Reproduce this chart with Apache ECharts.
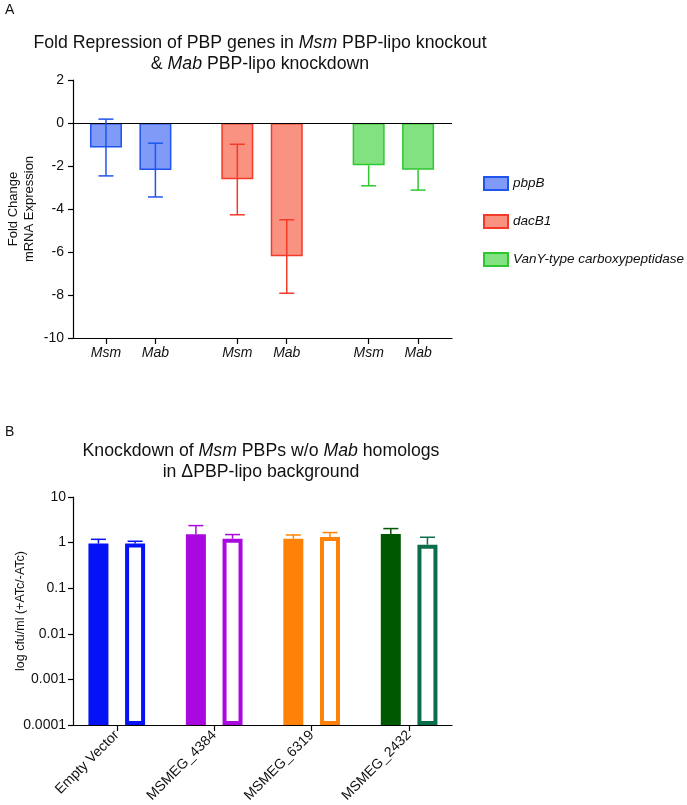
<!DOCTYPE html>
<html>
<head>
<meta charset="utf-8">
<script src="https://cdn.jsdelivr.net/npm/echarts@6/dist/echarts.min.js"></script>
<style>html,body{margin:0;padding:0;background:#fff}#c{width:687px;height:805px}</style>
</head>
<body>
<div id="c"></div>
<script>
// ---------- Panel A data ----------
const genesA = ['pbpB', 'dacB1', 'VanY-type carboxypeptidase'];
const strainsA = ['Msm', 'Mab'];
const meanA = { pbpB: [-1.14, -2.19], dacB1: [-2.62, -6.2], 'VanY-type carboxypeptidase': [-1.97, -2.17] };
const errUpA = { pbpB: [1.32, 1.25], dacB1: [1.63, 1.7], 'VanY-type carboxypeptidase': [0, 0] };
const errDownA = { pbpB: [1.32, 1.25], dacB1: [1.65, 1.72], 'VanY-type carboxypeptidase': [0.95, 0.95] };
const yTicksA = [2, 0, -2, -4, -6, -8, -10];

// ---------- Panel B data ----------
const strainsB = ['Empty Vector', 'MSMEG_4384', 'MSMEG_6319', 'MSMEG_2432'];
const filledB = [0.95, 1.52, 1.22, 1.54];
const filledErrB = [0.23, 0.84, 0.25, 0.49];
const openB = [0.95, 1.22, 1.33, 0.9];
const openErrB = [0.12, 0.28, 0.33, 0.41];
const yTicksB = [10, 1, 0.1, 0.01, 0.001, 0.0001];

// ---------- styles ----------
const FONT = 'Liberation Sans, Arial, Helvetica, sans-serif';
const colA = {
  pbpB: { fill: '#809af7', line: '#1f55ee' },
  dacB1: { fill: '#fa9282', line: '#f43a28' },
  'VanY-type carboxypeptidase': { fill: '#82e282', line: '#2ec82e' }
};
const colB = [
  { fill: '#0512f5', open: '#0512f5' },
  { fill: '#aa08e0', open: '#aa08e0' },
  { fill: '#ff8208', open: '#ff8208' },
  { fill: '#005800', open: '#0a6e48' }
];

// layout helpers (axis positions only)
const GROUP_STEP_A = 2.657;
const posA = (gi, si) => gi * GROUP_STEP_A + si;
const OFF_B = 0.188;
const posB = (ci, si) => ci + (si === 0 ? -OFF_B : OFF_B);

const tickPosA = [], tickLabA = {};
genesA.forEach((g, gi) => strainsA.forEach((s, si) => { const p = posA(gi, si); tickPosA.push(p); tickLabA[p.toFixed(3)] = s; }));
const tickPosB = strainsB.map((s, i) => i);

const series = [];

// Panel A bars
genesA.forEach((g, gi) => {
  const s = {
    name: g, type: 'bar', xAxisIndex: 0, yAxisIndex: 0,
    barWidth: 32, barGap: '-100%',
    itemStyle: { color: colA[g].fill, borderColor: colA[g].line, borderWidth: 1.5 },
    data: strainsA.map((st, si) => [posA(gi, si), meanA[g][si]]),
    z: 2
  };
  if (gi === 0) {
    s.markLine = {
      silent: true, symbol: 'none', label: { show: false },
      lineStyle: { color: '#000', width: 1.2, type: 'solid' },
      data: [{ yAxis: 0 }]
    };
  }
  series.push(s);
});

// error bar renderer
function errRender(params, api) {
  const x = api.value(0), m = api.value(1), lo = api.value(2), hi = api.value(3);
  const color = api.visual('color');
  const pLo = api.coord([x, lo]), pHi = api.coord([x, hi]);
  const half = 7.5;
  const st = { stroke: color, lineWidth: 1.5 };
  const ch = [{ type: 'line', shape: { x1: pLo[0], y1: pLo[1], x2: pHi[0], y2: pHi[1] }, style: st }];
  if (lo !== m) ch.push({ type: 'line', shape: { x1: pLo[0] - half, y1: pLo[1], x2: pLo[0] + half, y2: pLo[1] }, style: st });
  if (hi !== m) ch.push({ type: 'line', shape: { x1: pHi[0] - half, y1: pHi[1], x2: pHi[0] + half, y2: pHi[1] }, style: st });
  return { type: 'group', children: ch };
}

// Panel A error bars
genesA.forEach((g, gi) => {
  series.push({
    type: 'custom', xAxisIndex: 0, yAxisIndex: 0, z: 5, silent: true,
    itemStyle: { color: colA[g].line },
    renderItem: errRender,
    data: strainsA.map((st, si) => {
      const m = meanA[g][si];
      return [posA(gi, si), m, m - errDownA[g][si], m + errUpA[g][si]];
    })
  });
});

// Panel B bars (filled & open), one pair per strain
strainsB.forEach((name, ci) => {
  series.push({
    type: 'bar', xAxisIndex: 1, yAxisIndex: 1, barWidth: 20, barGap: '-100%',
    itemStyle: { color: colB[ci].fill, borderColor: colB[ci].fill, borderWidth: 4 },
    data: [[posB(ci, 0), filledB[ci]]], z: 2
  });
  series.push({
    type: 'bar', xAxisIndex: 1, yAxisIndex: 1, barWidth: 20, barGap: '-100%',
    itemStyle: { color: '#ffffff', borderColor: colB[ci].open, borderWidth: 4 },
    data: [[posB(ci, 1), openB[ci]]], z: 2
  });
  series.push({
    type: 'custom', xAxisIndex: 1, yAxisIndex: 1, z: 5, silent: true,
    itemStyle: { color: colB[ci].fill }, renderItem: errRender,
    data: [[posB(ci, 0), filledB[ci], filledB[ci], filledB[ci] + filledErrB[ci]]]
  });
  series.push({
    type: 'custom', xAxisIndex: 1, yAxisIndex: 1, z: 5, silent: true,
    itemStyle: { color: colB[ci].open }, renderItem: errRender,
    data: [[posB(ci, 1), openB[ci], openB[ci], openB[ci] + openErrB[ci]]]
  });
});

const axisLine = { show: true, onZero: false, lineStyle: { color: '#000', width: 1.2 } };
const axisTick = { show: true, length: 5, lineStyle: { color: '#000', width: 1.2 } };
const lab = { color: '#111', fontSize: 14, fontFamily: FONT };
const richT = {
  n: { fontSize: 17.7, lineHeight: 21, color: '#111', fontFamily: FONT },
  i: { fontSize: 17.7, lineHeight: 21, fontStyle: 'italic', color: '#111', fontFamily: FONT }
};

const option = {
  animation: false,
  backgroundColor: '#fff',
  textStyle: { fontFamily: FONT },
  title: [
    { text: 'A', left: 0, top: -2, textStyle: { fontSize: 14, fontWeight: 'normal', color: '#111', fontFamily: FONT } },
    { text: 'B', left: 0, top: 420, textStyle: { fontSize: 14, fontWeight: 'normal', color: '#111', fontFamily: FONT } },
    {
      text: '{n|Fold Repression of PBP genes in }{i|Msm}{n| PBP-lipo knockout}\n{n|& }{i|Mab}{n| PBP-lipo knockdown}',
      left: 255, top: 28, textAlign: 'center',
      textStyle: { fontSize: 17.7, fontWeight: 'normal', color: '#111', lineHeight: 21, fontFamily: FONT, rich: richT }
    },
    {
      text: '{n|Knockdown of }{i|Msm}{n| PBPs w/o }{i|Mab}{n| homologs}\n{n|in ΔPBP-lipo background}',
      left: 256, top: 436, textAlign: 'center',
      textStyle: { fontSize: 17.7, fontWeight: 'normal', color: '#111', lineHeight: 21, fontFamily: FONT, rich: richT }
    }
  ],
  legend: {
    data: genesA, orient: 'vertical', left: 478, top: 171,
    itemWidth: 24, itemHeight: 13, itemGap: 23, icon: 'rect',
    textStyle: { fontSize: 13.5, fontStyle: 'italic', color: '#111', fontFamily: FONT }
  },
  grid: [
    { left: 73, top: 80, width: 379, height: 258, outerBoundsMode: 'none', containLabel: false },
    { left: 73, top: 497, width: 379, height: 228, outerBoundsMode: 'none', containLabel: false }
  ],
  xAxis: [
    {
      type: 'value', gridIndex: 0, min: -0.667, max: 7.0,
      axisLine: axisLine, splitLine: { show: false },
      axisTick: Object.assign({ customValues: tickPosA }, axisTick, { length: 6 }),
      axisLabel: Object.assign({ customValues: tickPosA, margin: 8, fontStyle: 'italic', formatter: v => tickLabA[v.toFixed(3)] || '' }, lab)
    },
    {
      type: 'value', gridIndex: 1, min: -0.449, max: 3.44,
      axisLine: axisLine, splitLine: { show: false },
      axisTick: Object.assign({ customValues: tickPosB }, axisTick, { length: 6 }),
      axisLabel: Object.assign({ customValues: tickPosB, margin: 8, rotate: 45, formatter: v => strainsB[Math.round(v)] || '' }, lab)
    }
  ],
  yAxis: [
    {
      type: 'value', gridIndex: 0, min: -10, max: 2, interval: 2,
      name: 'Fold Change\nmRNA Expression', nameLocation: 'middle', nameGap: 36, nameMoveOverlap: false,
      nameTextStyle: { fontSize: 13, color: '#111', fontFamily: FONT, lineHeight: 16 },
      axisLine: axisLine, axisTick: axisTick, splitLine: { show: false },
      axisLabel: Object.assign({ margin: 9 }, lab)
    },
    {
      type: 'log', gridIndex: 1, logBase: 10, min: 0.0001, max: 10, startValue: 0.0001,
      name: 'log cfu/ml (+ATc/-ATc)', nameLocation: 'middle', nameGap: 46, nameMoveOverlap: false,
      nameTextStyle: { fontSize: 12.5, color: '#111', fontFamily: FONT },
      axisLine: axisLine, axisTick: axisTick, splitLine: { show: false }, minorTick: { show: false },
      axisLabel: Object.assign({ margin: 7, formatter: v => String(Number(v.toPrecision(1))) }, lab)
    }
  ],
  series: series
};

const chart = echarts.init(document.getElementById('c'), null, { renderer: 'canvas' });
chart.setOption(option);
</script>
</body>
</html>
